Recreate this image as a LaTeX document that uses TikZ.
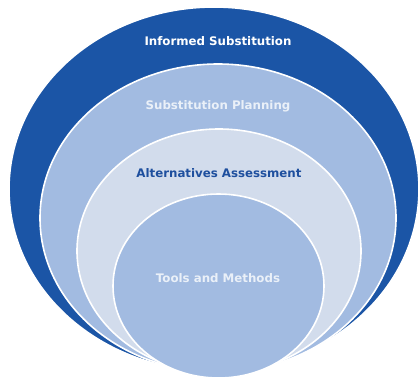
\documentclass[tikz,border=0pt]{standalone}
\usepackage{fontspec}
\setmainfont{DejaVu Sans}
\definecolor{darkblue}{HTML}{1B55A6}
\definecolor{midblue}{HTML}{A2BBE1}
\definecolor{paleblue}{HTML}{D2DCEC}
\definecolor{labelblue}{HTML}{1E4F9E}
\definecolor{lighttext}{HTML}{EAF0F8}
\tikzset{
  ring/.style={draw=white, line width=1.6pt},
  lbl/.style={font=\bfseries\fontsize{11.8}{14}\selectfont, inner sep=0pt}
}
\begin{document}
\begin{tikzpicture}[x=1pt,y=-1pt]
\useasboundingbox (0,0) rectangle (420,383);
\clip (0,0) rectangle (420,383);
\fill[white] (0,0) rectangle (420,383);
\filldraw[ring, fill=darkblue] (214,189) ellipse [x radius=205, y radius=182];
\filldraw[ring, fill=midblue] (218,218) ellipse [x radius=178, y radius=154];
\filldraw[ring, fill=paleblue] (219,251) ellipse [x radius=142, y radius=122];
\filldraw[ring, fill=midblue] (218.5,286) ellipse [x radius=105.5, y radius=92];
\node[lbl, text=white] (informed) at (218,41) {Informed Substitution};
\node[lbl, text=lighttext] (planning) at (218,106) {Substitution Planning};
\node[lbl, text=labelblue] (alternatives) at (219,173) {Alternatives Assessment};
\node[lbl, text=lighttext] (tools) at (218,278) {Tools and Methods};
\end{tikzpicture}
\end{document}
